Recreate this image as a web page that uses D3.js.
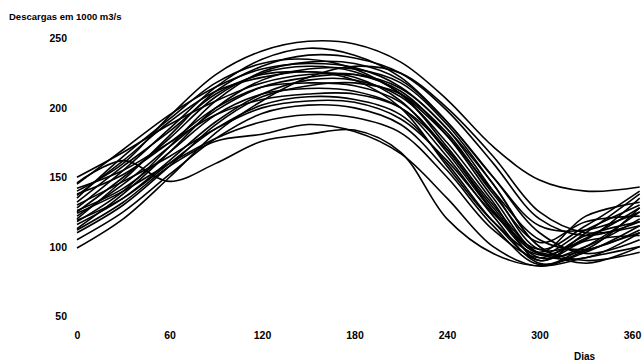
<!DOCTYPE html>
<html>
<head>
<meta charset="utf-8">
<script src="https://cdn.jsdelivr.net/npm/d3@7"></script>
<style>
  body { margin: 0; background: #fff; }
  .lbl { font-family: "Liberation Sans", Arial, sans-serif; font-weight: bold; fill: #000; }
</style>
</head>
<body>
<div id="chart"></div>
<script>
// dias do ano em que cada valor foi lido
const days = [0, 30, 60, 90, 120, 150, 180, 210, 240, 270, 300, 330, 365];

const xTicks = [0, 60, 120, 180, 240, 300, 360];
const yTicks = [50, 100, 150, 200, 250];

// uma linha por ano (descargas em 1000 m3/s)
const year01 = [140, 160, 194, 224, 241, 248, 246, 233, 206, 172, 148, 140, 143];
const year02 = [128, 155, 185, 215, 235, 243, 238, 222, 190, 150, 115, 112, 125];
const year03 = [120, 148, 180, 212, 230, 238, 236, 225, 198, 160, 120, 108, 118];
const year04 = [135, 165, 192, 218, 232, 235, 228, 210, 180, 140, 105, 98, 112];
const year05 = [118, 140, 172, 205, 226, 233, 232, 220, 190, 150, 110, 95, 105];
const year06 = [145, 170, 195, 215, 228, 232, 229, 215, 185, 145, 100, 88, 100];
const year07 = [125, 150, 178, 208, 225, 230, 226, 210, 172, 130, 95, 92, 110];
const year08 = [113, 138, 168, 200, 220, 228, 228, 218, 188, 145, 100, 90, 96];
const year09 = [132, 158, 183, 210, 224, 226, 222, 205, 168, 125, 92, 100, 120];
const year10 = [150, 168, 188, 205, 218, 224, 224, 212, 180, 135, 95, 98, 128];
const year11 = [122, 145, 172, 198, 215, 222, 224, 214, 185, 140, 98, 105, 135];
const year12 = [116, 135, 162, 190, 210, 220, 220, 208, 175, 132, 90, 110, 138];
const year13 = [138, 152, 175, 200, 215, 218, 216, 204, 170, 128, 95, 112, 130];
const year14 = [110, 130, 158, 188, 208, 216, 218, 210, 182, 138, 103, 118, 122];
const year15 = [126, 142, 168, 195, 210, 214, 212, 200, 165, 122, 88, 96, 115];
const year16 = [142, 155, 175, 195, 206, 210, 210, 200, 170, 126, 96, 122, 132];
const year17 = [119, 135, 160, 185, 202, 208, 206, 195, 160, 118, 90, 104, 108];
const year18 = [130, 147, 165, 185, 200, 205, 204, 192, 162, 124, 98, 115, 140];
const year19 = [105, 125, 152, 178, 196, 202, 200, 188, 155, 115, 87, 100, 125];
const year20 = [124, 140, 160, 178, 190, 195, 193, 182, 150, 112, 92, 108, 118];
const year21 = [112, 132, 158, 176, 181, 188, 183, 167, 135, 100, 86, 97, 110];
const year22 = [146, 162, 147, 160, 176, 181, 184, 168, 120, 95, 86, 92, 100];
const year23 = [99, 120, 150, 182, 205, 222, 230, 225, 200, 165, 125, 110, 115];
const year24 = [137, 162, 190, 212, 222, 226, 220, 200, 158, 118, 94, 106, 128];

const series = [year01, year02, year03, year04, year05, year06, year07, year08,
  year09, year10, year11, year12, year13, year14, year15, year16, year17, year18,
  year19, year20, year21, year22, year23, year24];

const width = 643, height = 362;

const svg = d3.select('#chart').append('svg')
  .attr('width', width)
  .attr('height', height);

const x = d3.scaleLinear().domain([0, 360]).range([77, 632]);
const y = d3.scaleLinear().domain([50, 250]).range([316, 38.5]);

const line = d3.line()
  .x((d, i) => x(days[i]))
  .y(d => y(d))
  .curve(d3.curveCatmullRom.alpha(0.5));

svg.append('g')
  .selectAll('path')
  .data(series)
  .join('path')
  .attr('d', line)
  .attr('fill', 'none')
  .attr('stroke', '#000')
  .attr('stroke-width', 1.6)
  .attr('stroke-linejoin', 'round');

// eixos sem linhas, so os numeros
const yAxis = svg.append('g')
  .attr('transform', 'translate(70,0)')
  .call(d3.axisLeft(y).tickValues(yTicks).tickSize(0).tickPadding(3));

const xAxis = svg.append('g')
  .attr('transform', 'translate(0,331.5)')
  .call(d3.axisBottom(x).tickValues(xTicks).tickSize(0).tickPadding(0));

[yAxis, xAxis].forEach(a => {
  a.select('.domain').remove();
  a.selectAll('text')
    .attr('class', 'lbl')
    .style('font-size', '10.5px');
});

svg.append('text')
  .attr('class', 'lbl')
  .attr('x', 9)
  .attr('y', 20)
  .style('font-size', '9.5px')
  .text('Descargas em 1000 m3/s');

svg.append('text')
  .attr('class', 'lbl')
  .attr('x', 574)
  .attr('y', 360)
  .style('font-size', '10px')
  .text('Dias');
</script>
</body>
</html>
